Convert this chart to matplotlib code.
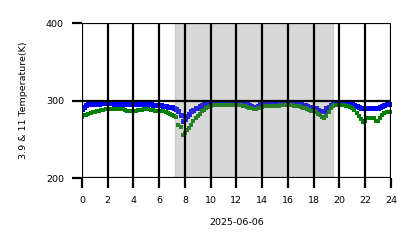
import numpy as np
import matplotlib
matplotlib.use("Agg")
import matplotlib.pyplot as plt

# 10-minute samples, hour 0 .. 24
hours = np.arange(145) / 6.0

t39 = [
    289, 292, 294, 295, 295, 296,
    296, 296, 296, 297, 297, 297,
    297, 297, 297, 296, 296, 296,
    296, 296, 295, 295, 295, 295,
    295, 296, 296, 296, 296, 295,
    295, 295, 295, 294, 294, 294,
    294, 294, 293, 293, 292, 292,
    292, 291, 289, 286, 281, 274,
    276, 280, 283, 286, 288, 290,
    291, 293, 294, 295, 296, 297,
    297, 297, 297, 297, 297, 297,
    297, 297, 297, 297, 297, 297,
    297, 297, 297, 296, 296, 295,
    294, 293, 292, 292, 293, 295,
    296, 296, 296, 297, 297, 296,
    296, 296, 296, 296, 297, 297,
    297, 297, 296, 296, 296, 295,
    295, 294, 294, 293, 292, 292,
    291, 290, 288, 287, 286, 287,
    290, 292, 294, 296, 297, 297,
    297, 297, 297, 297, 297, 296,
    295, 294, 293, 292, 291, 291,
    290, 290, 291, 291, 290, 290,
    291, 292, 293, 294, 295, 296,
    296,
]

t11 = [
    279, 281, 282, 283, 284, 285,
    285, 286, 287, 288, 288, 289,
    289, 289, 289, 289, 289, 289,
    289, 289, 288, 287, 286, 286,
    287, 287, 288, 288, 288, 289,
    289, 289, 288, 288, 287, 287,
    286, 286, 286, 285, 284, 283,
    281, 280, 279, 268, 266, 256,
    258, 262, 265, 269, 273, 277,
    280, 283, 286, 288, 290, 292,
    293, 294, 294, 294, 294, 294,
    294, 294, 294, 294, 294, 294,
    294, 294, 294, 293, 293, 292,
    291, 290, 289, 289, 290, 291,
    292, 293, 293, 293, 293, 293,
    293, 293, 293, 294, 294, 294,
    294, 294, 294, 293, 293, 293,
    292, 291, 290, 289, 288, 287,
    286, 285, 283, 281, 279, 278,
    280, 285, 290, 293, 294, 294,
    294, 294, 294, 293, 293, 292,
    291, 288, 284, 280, 276, 272,
    273, 277, 278, 278, 277, 273,
    273, 277, 281, 284, 285, 285,
    285,
]

night_start, night_end = 7.22, 19.5
xticks = list(range(0, 25, 2))
yticks = [200, 300, 400]

fig = plt.figure(figsize=(4.18, 2.48), dpi=100)
ax = fig.add_axes([0.196, 0.282, 0.739, 0.625])

ax.plot(hours, t39, linestyle='none', marker='s', markersize=3.6,
        color='#0000ff', markeredgewidth=0, zorder=2)
ax.plot(hours, t11, linestyle='none', marker='s', markersize=3.2,
        color='green', markeredgewidth=0, zorder=2.1)
ax.axvspan(night_start, night_end, color='gray', alpha=0.3, zorder=2.2)

ax.set_xlim(0, 24)
ax.set_ylim(200, 400)
ax.set_xticks(xticks)
ax.set_yticks(yticks)
ax.grid(True, color='black', linewidth=1.6)
ax.set_axisbelow(False)
for s in ax.spines.values():
    s.set_visible(False)
ax.tick_params(axis='both', length=7, width=1.6, pad=6, labelsize=6.8)
ax.set_xlabel('2025-06-06', fontsize=6.8, labelpad=9)
ax.set_ylabel('3.9 & 11 Temperature(K)', fontsize=6.8, labelpad=13)

fig.savefig('out.png', dpi=100)
